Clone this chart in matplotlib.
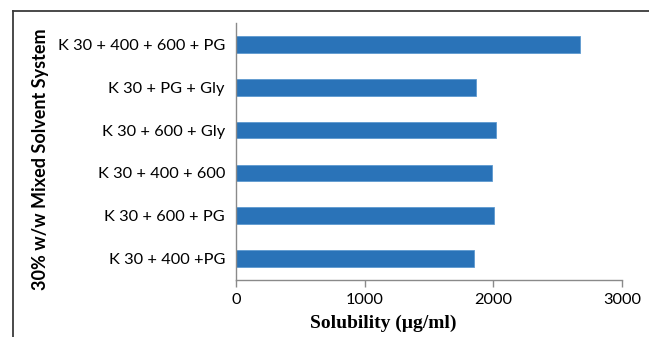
import matplotlib
matplotlib.use("Agg")
import matplotlib.pyplot as plt
from matplotlib.lines import Line2D

categories = ["K 30 + 400 +PG", "K 30 + 600 + PG", "K 30 + 400 + 600",
              "K 30 + 600 + Gly", "K 30 + PG + Gly", "K 30 + 400 + 600 + PG"]
solubility = [1848, 2005, 1992, 2019, 1867, 2675]
xticks = [0, 1000, 2000, 3000]

W, H = 649, 337
fig = plt.figure(figsize=(W / 100, H / 100), dpi=100)
ax = fig.add_axes([236 / W, 1 - 280 / H, (622 - 236) / W, (280 - 23) / H])

ypos = list(range(len(categories)))
ax.barh(ypos, solubility, height=0.39, color="#2a73b8", edgecolor="#5e9ad0", linewidth=0.6)
ax.set_ylim(-0.5, 5.5)
ax.set_xlim(0, 3000)
ax.set_yticks(ypos)
ax.set_yticklabels(categories, family="Lato", fontsize=11.8)
ax.set_xticks(xticks)
ax.set_xticklabels([str(t) for t in xticks], family="Lato", fontsize=11.8)
ax.tick_params(axis="y", length=0, pad=8)
ax.tick_params(axis="x", length=5, color="#8a8a8a", width=1, pad=4)
for s in ["top", "right"]:
    ax.spines[s].set_visible(False)
for s in ["left", "bottom"]:
    ax.spines[s].set_color("#8a8a8a")
    ax.spines[s].set_linewidth(1)

fig.text(383 / W, 1 - 323 / H, "Solubility (µg/ml)", family="Liberation Serif",
         fontweight="bold", fontsize=14, ha="center", va="center")
fig.text(41 / W, 1 - 159 / H, "30% w/w Mixed Solvent System", rotation=90,
         family="Lato", fontweight="bold", fontsize=13, ha="center", va="center")

# outer frame (top and left edges visible)
fig.add_artist(Line2D([12.5 / W, 12.5 / W], [0, 1 - 11 / H], transform=fig.transFigure,
                      color="#3a3a3a", lw=1.3))
fig.add_artist(Line2D([12.5 / W, 1], [1 - 11 / H, 1 - 11 / H], transform=fig.transFigure,
                      color="#3a3a3a", lw=1.3))

fig.savefig("out.png", dpi=100)
